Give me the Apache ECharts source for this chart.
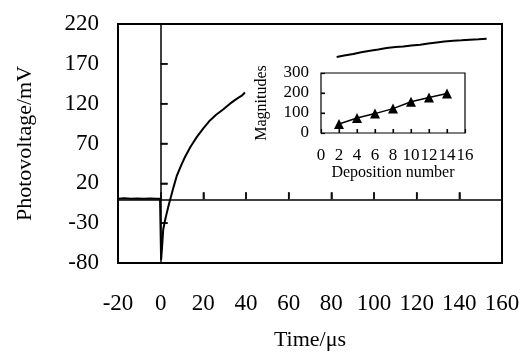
<!DOCTYPE html>
<html>
<head>
<meta charset="utf-8">
<script src="https://cdn.jsdelivr.net/npm/echarts@6/dist/echarts.min.js"></script>
<style>
html,body{margin:0;padding:0;background:#fff;}
#chart{width:523px;height:356px;}
</style>
</head>
<body>
<div id="chart"></div>
<script>
// Main trace: photovoltage (mV) vs time (µs)
const preTime  = [-20, -17, -14, -11, -8, -5, -2, -0.3];
const preVolt  = [0.8, 1.2, 0.6, 1.0, 0.7, 1.1, 0.8, 0.6];
const riseTime = [0, 0.2, 0.6, 1.2, 2, 2.8, 3.6, 4.4, 5.2, 5.9, 7.5, 9.5, 11.4, 14, 16.9, 20, 23.1, 26, 29.4, 32.5, 35.6, 38, 39.5];
const riseVolt = [0, -76, -62, -38, -27, -18, -9, -1, 7, 14, 29, 42, 53, 66, 78, 89, 99, 106, 113, 120, 126, 130, 134];
const lateTime = [82.5, 86, 90.3, 94, 98.1, 102, 105.9, 110, 113.7, 117.5, 121.6, 125.5, 129.4, 133, 137.2, 141, 145, 149, 152.8];
const lateVolt = [178.7, 180.5, 182.4, 184.5, 186.5, 188, 189.8, 191, 191.9, 193, 194, 195.5, 196.8, 198, 198.9, 199.5, 200.2, 200.8, 201.4];

// Inset: magnitudes vs deposition number
const depNumber = [2, 4, 6, 8, 10, 12, 14];
const magnitude = [45, 75, 97, 122, 156, 178, 198];

// Axis settings (tick values)
const timeMin = -20, timeMax = 160, timeStep = 20;
const voltMin = -80, voltMax = 220, voltStep = 50;
const depMin = 0, depMax = 16, depStep = 2;
const magMin = 0, magMax = 300, magStep = 100;

// Tick marks drawn on the zero lines / inset frame
const timeTicks = [20, 40, 60, 80, 100, 120, 140];
const voltTicks = [-30, 20, 70, 120, 170];
const depTicks = [2, 4, 6, 8, 10, 12, 14];
const magTicks = [100, 200];

const mainData = [];
preTime.forEach((t, i) => mainData.push([t, preVolt[i]]));
riseTime.forEach((t, i) => mainData.push([t, riseVolt[i]]));
mainData.push([60, null]);
lateTime.forEach((t, i) => mainData.push([t, lateVolt[i]]));

const insetData = depNumber.map((d, i) => [d, magnitude[i]]);

const FONT = '"Liberation Serif", "Times New Roman", serif';
const black = '#000';

function tickSeries(xi, yi, data, size, offset) {
  return {
    type: 'scatter', xAxisIndex: xi, yAxisIndex: yi, data: data, symbol: 'rect',
    symbolSize: size, symbolOffset: offset, itemStyle: {color: black}, silent: true, z: 6
  };
}

const chart = echarts.init(document.getElementById('chart'), null, {renderer: 'canvas'});
chart.setOption({
  animation: false,
  backgroundColor: '#fff',
  grid: [
    {left: 118, right: 21, top: 24, bottom: 90, show: true, borderColor: black, borderWidth: 2, backgroundColor: 'transparent', containLabel: false},
    {left: 321, width: 144, top: 73, height: 60, show: true, borderColor: black, borderWidth: 1.2, backgroundColor: '#fff', containLabel: false}
  ],
  xAxis: [
    {
      type: 'value', gridIndex: 0, min: timeMin, max: timeMax, interval: timeStep, position: 'bottom',
      axisLine: {show: true, onZero: true, lineStyle: {color: black, width: 1.5}},
      axisTick: {show: true, inside: true, length: 7, lineStyle: {color: black, width: 1.5}},
      splitLine: {show: false},
      axisLabel: {color: black, fontFamily: FONT, fontSize: 23, margin: 29, showMinLabel: true, showMaxLabel: true},
      name: 'Time/\u03bcs', nameLocation: 'middle', nameGap: 66,
      nameTextStyle: {color: black, fontFamily: FONT, fontSize: 22}
    },
    {
      type: 'value', gridIndex: 1, min: depMin, max: depMax, interval: depStep, position: 'bottom',
      axisLine: {show: false, onZero: true},
      axisTick: {show: true, inside: true, length: 4, lineStyle: {color: black, width: 1.2}},
      splitLine: {show: false},
      axisLabel: {color: black, fontFamily: FONT, fontSize: 17, margin: 14, showMinLabel: true, showMaxLabel: true},
      name: 'Deposition number', nameLocation: 'middle', nameGap: 32,
      nameTextStyle: {color: black, fontFamily: FONT, fontSize: 16}
    }
  ],
  yAxis: [
    {
      type: 'value', gridIndex: 0, min: voltMin, max: voltMax, interval: voltStep, position: 'left',
      axisLine: {show: true, onZero: true, lineStyle: {color: black, width: 1.5}},
      axisTick: {show: true, inside: true, length: 7, lineStyle: {color: black, width: 1.5}},
      splitLine: {show: false},
      axisLabel: {color: black, fontFamily: FONT, fontSize: 23, margin: 19, showMinLabel: true, showMaxLabel: true},
      name: 'Photovoltage/mV', nameLocation: 'middle', nameGap: 82,
      nameTextStyle: {color: black, fontFamily: FONT, fontSize: 22}
    },
    {
      type: 'value', gridIndex: 1, min: magMin, max: magMax, interval: magStep, position: 'left',
      axisLine: {show: false, onZero: true},
      axisTick: {show: true, inside: true, length: 4, lineStyle: {color: black, width: 1.2}},
      splitLine: {show: false},
      axisLabel: {color: black, fontFamily: FONT, fontSize: 17, margin: 12, showMinLabel: true, showMaxLabel: true},
      name: 'Magnitudes', nameLocation: 'middle', nameGap: 51,
      nameTextStyle: {color: black, fontFamily: FONT, fontSize: 16}
    }
  ],
  series: [
    {
      type: 'line', xAxisIndex: 0, yAxisIndex: 0, data: mainData, showSymbol: false, connectNulls: false,
      lineStyle: {color: black, width: 2}, z: 5
    },
    {
      type: 'line', xAxisIndex: 1, yAxisIndex: 1, data: insetData, symbol: 'triangle', symbolSize: 10,
      itemStyle: {color: black}, lineStyle: {color: black, width: 1.5}, z: 5
    },
    tickSeries(0, 0, timeTicks.map(t => [t, 0]), [1.5, 7], [0, -3.5]),
    tickSeries(0, 0, voltTicks.map(v => [0, v]), [7, 1.5], [3.5, 0]),
    tickSeries(1, 1, depTicks.map(d => [d, 0]), [1.2, 4], [0, -2]),
    tickSeries(1, 1, magTicks.map(m => [0, m]), [4, 1.2], [2, 0])
  ]
});
</script>
</body>
</html>
